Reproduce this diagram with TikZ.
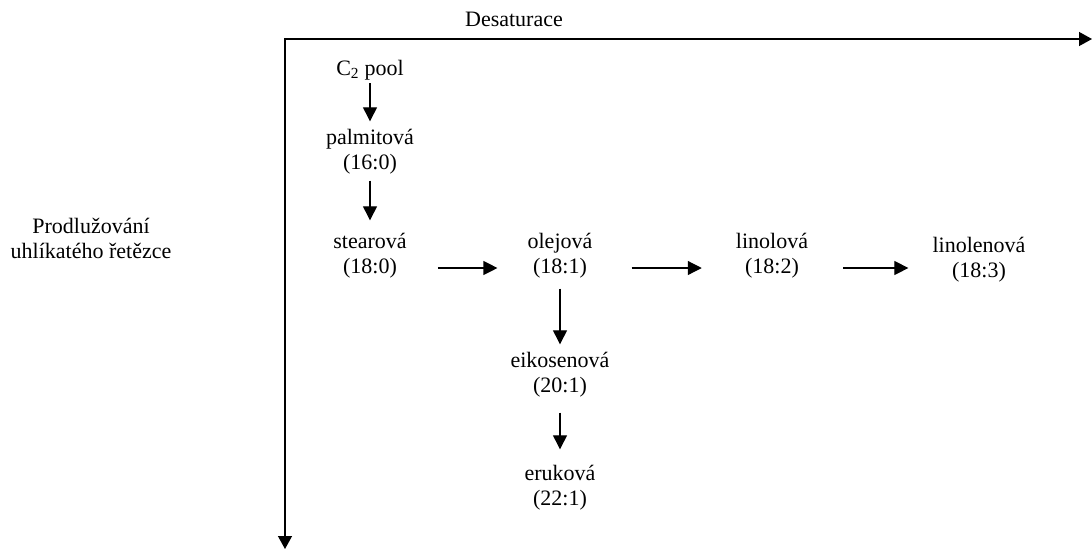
\documentclass[tikz,border=0pt]{standalone}
\usepackage{fontspec}
\setmainfont{Liberation Serif}
\usetikzlibrary{arrows.meta,positioning}
\newcommand{\acidfont}{\fontsize{22}{25}\selectfont}

\begin{document}
\begin{tikzpicture}[
    x=1pt, y=-1pt,
    every node/.style={font=\acidfont, align=center, inner sep=0pt},
    acid/.style={align=center},
    flow/.style={-{Triangle[length=14pt,width=14pt]}, line width=1.2pt, shorten <=6pt, shorten >=8pt},
    axis/.style={-{Triangle[length=13pt,width=14pt]}, line width=1.3pt}
]
\useasboundingbox (0,0) rectangle (1092,550);
% axes
\coordinate (origin) at (284,39);
\coordinate (desat) at (1092,39);
\coordinate (elong) at (285,549);
\draw[axis] (origin) -- (desat);
\draw[axis] ([xshift=1pt]origin) -- (elong);
\node (desatlabel) at (514,19) {Desaturace};
\node (elonglabel) at (91,238) {Prodlužování\\uhlíkatého řetězce};
% acids
\node[acid] (pool) at (370,70) {C\textsubscript{2} pool};
\node[acid] (palm) at (370,152) {palmitová\\(16:0)};
\node[acid] (stear) at (370,256) {stearová\\(18:0)};
\node[acid] (olej) at (560,256) {olejová\\(18:1)};
\node[acid] (linol) at (772,256) {linolová\\(18:2)};
\node[acid] (linolen) at (979,260) {linolenová\\(18:3)};
\node[acid] (eikos) at (560,375) {eikosenová\\(20:1)};
\node[acid] (eruk) at (560,488) {eruková\\(22:1)};
% elongation
\draw[flow, shorten <=3pt, shorten >=8pt] (pool) -- (palm);
\draw[flow, shorten <=6pt, shorten >=13pt] (palm) -- (stear);
\draw[flow, shorten <=10pt, shorten >=8pt] (olej.south) -- (olej.south |- eikos.north);
\draw[flow, shorten <=15pt, shorten >=16pt] (eikos) -- (eruk);
% desaturation
\draw[flow, shorten <=31pt, shorten >=30pt] ([yshift=-12pt]stear.east) -- ([yshift=-12pt]olej.west);
\draw[flow, shorten <=39pt, shorten >=34pt] ([yshift=-12pt]olej.east) -- ([yshift=-12pt]linol.west);
\draw[flow, shorten <=35pt, shorten >=24pt] ([yshift=-12pt]linol.east) -- ([yshift=-12pt]linol.east -| linolen.west);
\end{tikzpicture}
\end{document}
